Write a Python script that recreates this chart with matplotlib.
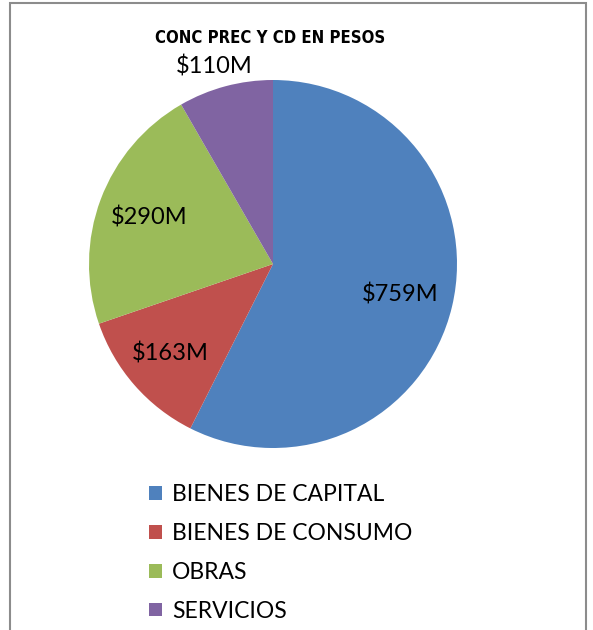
import numpy as np
import matplotlib.pyplot as plt
from matplotlib.patches import Rectangle

categories = ['BIENES DE CAPITAL', 'BIENES DE CONSUMO', 'OBRAS', 'SERVICIOS']
values = [759, 163, 290, 110]
value_labels = ['$759M', '$163M', '$290M', '$110M']
colors = ['#4f81bd', '#c0504d', '#9bbb59', '#8064a2']
label_radius = [0.71, 0.74, 0.72, 1.13]

W, H = 593, 630
fig = plt.figure(figsize=(W / 100, H / 100), dpi=100)

# chart frame
fig.patches.append(Rectangle((10 / W, -0.05), 576 / W, 1.05 - 3 / H,
                             transform=fig.transFigure, fill=False,
                             edgecolor='#8c8c8c', linewidth=1.5))

ax = fig.add_axes([89 / W, (H - 448) / H, 368 / W, 368 / H])
wedges, _ = ax.pie(values, colors=colors, startangle=90, counterclock=False,
                   radius=1.0)
ax.set_xlim(-1, 1)
ax.set_ylim(-1, 1)
ax.set_aspect('equal')

for w, lab, r in zip(wedges, value_labels, label_radius):
    mid = np.deg2rad((w.theta1 + w.theta2) / 2)
    x, y = r * np.cos(mid), r * np.sin(mid)
    if r > 1:
        x -= 0.03
        y -= 0.02
    ax.text(x, y, lab, ha='center', va='center',
            fontsize=17, family='Lato', clip_on=False)

fig.text(270 / W, 1 - 38 / H, 'CONC PREC Y CD EN PESOS', ha='center', va='center',
         fontsize=12, fontweight='bold', fontstretch='condensed',
         family='DejaVu Sans')

fig.legend(wedges, categories, loc='upper left',
           bbox_to_anchor=(149 / W, 1 - 484 / H), frameon=False,
           prop={'family': 'Lato', 'size': 16.5},
           handlelength=0.55, handleheight=0.55, handletextpad=0.45,
           labelspacing=0.78, borderaxespad=0, borderpad=0)

fig.savefig('out.png', dpi=100)
